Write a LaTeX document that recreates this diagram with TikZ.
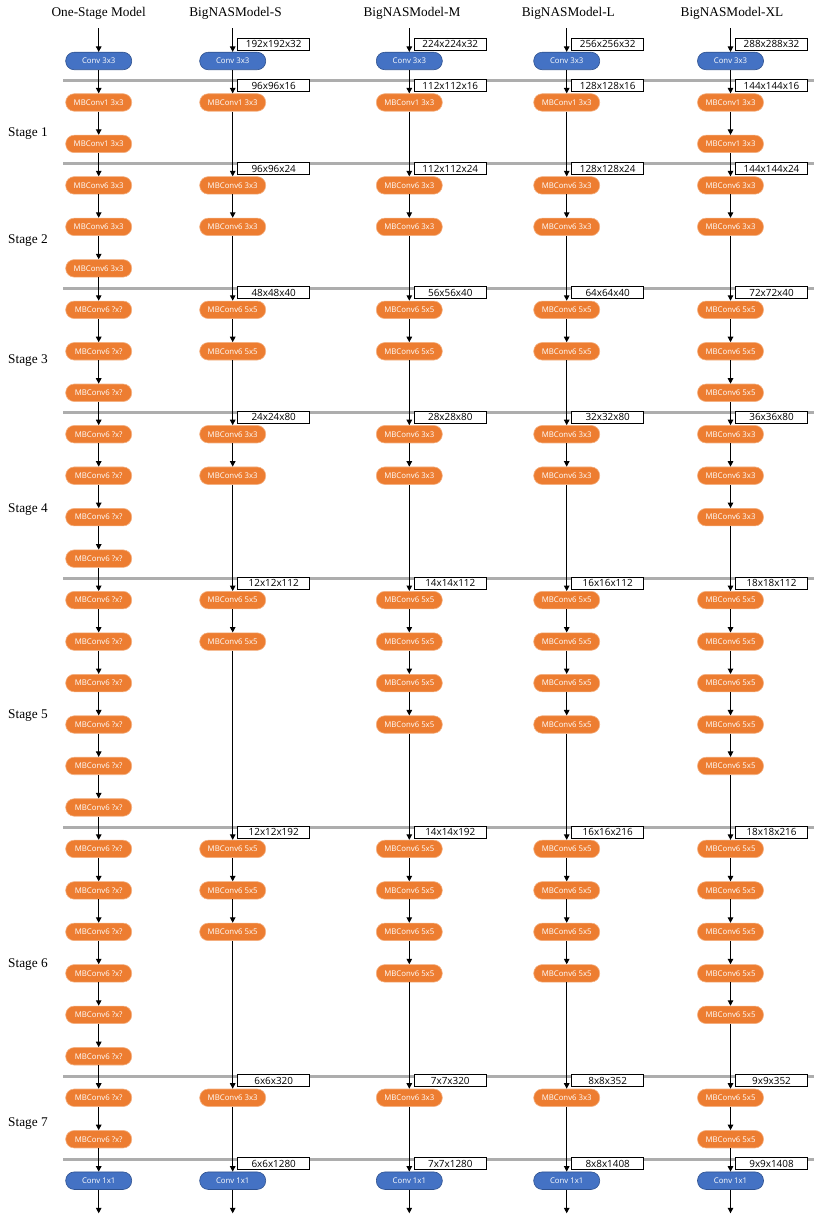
\documentclass[tikz,border=0pt]{standalone}
\usepackage{fontspec}
\setmainfont{Liberation Serif}
\newfontfamily\blockfont{Open Sans}
\usetikzlibrary{arrows.meta}
\definecolor{bfill}{HTML}{4472C4}
\definecolor{bline}{HTML}{2F528F}
\definecolor{ofill}{HTML}{ED7D31}
\definecolor{oline}{HTML}{F4B183}
\definecolor{sepgray}{HTML}{ADADAD}
\newcommand\btext[2]{%
 \ifnum#2=0 Conv 3x3\else
 \ifnum#2=27 Conv 1x1\else
 \ifnum#2<3 MBConv1 3x3\else
 \ifnum#2<6 MBConv6 3x3\else
 \ifnum#1=0 MBConv6 ?x?\else
 \ifnum#2<9 MBConv6 5x5\else
 \ifnum#2<13 MBConv6 3x3\else
 \ifnum#2<25 MBConv6 5x5\else
 \ifnum#1=4 MBConv6 5x5\else MBConv6 3x3\fi\fi\fi\fi\fi\fi\fi\fi\fi}
\tikzset{
  blk/.style={rectangle, rounded corners=8.5pt, minimum width=66pt, minimum height=17.5pt,
    inner sep=0pt, line width=0.6pt, text=white, font=\blockfont\fontsize{7.8}{9}\selectfont},
  bluenode/.style={blk, fill=bfill, draw=bline},
  orangenode/.style={blk, fill=ofill, draw=oline},
  arr/.style={line width=1.1pt, -{Triangle[length=5.5pt,width=5.5pt]}},
  labbox/.style={draw, line width=0.9pt, fill=white, minimum width=72pt, minimum height=12pt,
    inner sep=0pt, font=\blockfont\fontsize{9.9}{10}\selectfont},
  sepline/.style={draw=sepgray, line width=3pt},
  header/.style={anchor=base, font=\fontsize{13.3}{15}\selectfont, inner sep=0pt},
  stagelab/.style={anchor=base west, font=\fontsize{13.3}{15}\selectfont, inner sep=0pt}
}
\begin{document}
\begin{tikzpicture}[x=1pt,y=-1pt]
\useasboundingbox (0,0) rectangle (814,1222);
% separators
\foreach \r in {1,3,6,9,13,19,25,27}{
  \pgfmathsetmacro\sy{61+41.47*\r-21.5}
  \coordinate (sepl\r) at (63,\sy);
  \coordinate (sepr\r) at (814,\sy);
  \draw[sepline] (sepl\r) -- (sepr\r);
}
% headers
\node[header] (h0) at (98.7,17) {One-Stage Model};
\node[header] (h1) at (235.5,17) {BigNASModel-S};
\node[header] (h2) at (412,17) {BigNASModel-M};
\node[header] (h3) at (568.3,17) {BigNASModel-L};
\node[header] (h4) at (732,17) {BigNASModel-XL};
% stage labels
\foreach \s/\cy in {1/131.7,2/239,3/359,4/507.7,5/714,6/963,7/1122}{
  \node[stagelab] (stage\s) at (8,\cy+4.6) {Stage \s};
}
% columns of blocks
\foreach \c/\x/\rows in {
  0/98.7/{0,1,2,3,4,5,6,7,8,9,10,11,12,13,14,15,16,17,18,19,20,21,22,23,24,25,26,27},
  1/232.7/{0,1,3,4,6,7,9,10,13,14,19,20,21,25,27},
  2/409.3/{0,1,3,4,6,7,9,10,13,14,15,16,19,20,21,22,25,27},
  3/566.7/{0,1,3,4,6,7,9,10,13,14,15,16,19,20,21,22,25,27},
  4/730.5/{0,1,2,3,4,6,7,8,9,10,11,13,14,15,16,17,19,20,21,22,23,25,26,27}}{
  \coordinate (top\c) at (\x,28.3);
  \coordinate (bot\c) at (\x,1213.3);
  \foreach \r [remember=\r as \p (initially -1)] in \rows {
    \pgfmathsetmacro\y{61+41.47*\r}
    \ifnum\r=0 \def\st{bluenode}\else\ifnum\r=27 \def\st{bluenode}\else\def\st{orangenode}\fi\fi
    \node[\st] (n\c-\r) at (\x,\y) {\btext{\c}{\r}};
    \ifnum\p=-1
      \draw[arr] (top\c) -- (n\c-\r);
    \else
      \draw[arr] (n\c-\p) -- (n\c-\r);
    \fi
  }
  \draw[arr] (n\c-27) -- (bot\c);
}
% size labels
\foreach \c/\x/\labs in {
  1/232.7/{0/192x192x32,1/96x96x16,3/96x96x24,6/48x48x40,9/24x24x80,13/12x12x112,19/12x12x192,25/6x6x320,27/6x6x1280},
  2/409.3/{0/224x224x32,1/112x112x16,3/112x112x24,6/56x56x40,9/28x28x80,13/14x14x112,19/14x14x192,25/7x7x320,27/7x7x1280},
  3/566.7/{0/256x256x32,1/128x128x16,3/128x128x24,6/64x64x40,9/32x32x80,13/16x16x112,19/16x16x216,25/8x8x352,27/8x8x1408},
  4/730.5/{0/288x288x32,1/144x144x16,3/144x144x24,6/72x72x40,9/36x36x80,13/18x18x112,19/18x18x216,25/9x9x352,27/9x9x1408}}{
  \foreach \r/\t in \labs {
    \pgfmathsetmacro\ly{61+41.47*\r-16.9}
    \node[labbox] (lab\c-\r) at (\x+41,\ly) {\t};
  }
}
\end{tikzpicture}
\end{document}
